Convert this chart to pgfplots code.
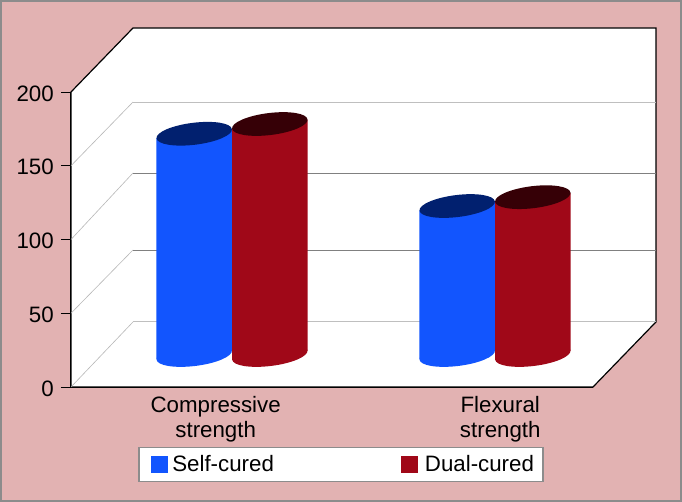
\documentclass[border=0pt]{standalone}
\usepackage{fontspec}
\setmainfont{Liberation Sans}
\usepackage{pgfplots}
\pgfplotsset{compat=1.18}
\definecolor{pinkbg}{HTML}{E2B2B2}
\definecolor{frame}{HTML}{8C8C8C}
\definecolor{cblue}{HTML}{1255FE}
\definecolor{cbluetop}{HTML}{01206F}
\definecolor{cred}{HTML}{A00818}
\definecolor{credtop}{HTML}{360006}
\pgfdeclareplotmark{cyl}{%
  \pgfpathellipse{\pgfpointorigin}{\pgfqpoint{37.7bp}{4.63bp}}{\pgfqpoint{-1.34bp}{10.92bp}}%
  \pgfusepathqfill}
\begin{document}
\begin{tikzpicture}
\path[use as bounding box] (0,0) rectangle (682bp,502bp);
\fill[pinkbg] (0,0) rectangle (682bp,502bp);
\draw[frame,line width=1.6bp] (0.8bp,0.8bp) rectangle (681.2bp,501.2bp);
\begin{axis}[
    at={(71bp,115bp)}, anchor=south west,
    scale only axis,
    width=522bp, height=295bp,
    xmin=-0.6122, xmax=1.3726,
    ymin=0, ymax=200,
    clip=false,
    axis x line*=bottom,
    axis y line*=left,
    axis line style={line width=1.2bp,black},
    ytick={0,50,100,150,200},
    tick align=outside,
    major tick length=10bp,
    ytick style={line width=0.9bp,black},
    xtick={-0.062,1.02},
    xticklabels={{Compressive\\strength},{Flexural\\strength}},
    xtick style={draw=none},
    /pgf/number format/assume math mode=true,
    tick label style={font=\fontsize{22.3bp}{25bp}\selectfont},
    xticklabel style={align=center,inner sep=0pt,yshift=1bp},
    yticklabel style={inner sep=0pt,xshift=-7bp,yshift=-1.5bp},
    legend style={at={(axis cs:0.4144,-52.5)},anchor=center,draw=frame,line width=1.3bp,
      fill=white,font=\fontsize{22.3bp}{25bp}\selectfont,
      inner xsep=7bp,inner ysep=6bp,
      /tikz/column 1/.style={column sep=2bp},
      /tikz/column 2/.style={column sep=120bp},
      /tikz/column 3/.style={column sep=4.7bp},
      },
    legend columns=2,
]
% walls
\addplot[fill=white,draw=black,line width=1.2bp,forget plot] coordinates {
    (-0.6122,200) (-0.3764,243.4) (1.612,243.4) (1.612,44.1) (1.3726,0) (-0.6122,0)} --cycle;
% grid, from the front edge to the back wall
\addplot[draw=black!28,line width=0.6bp,forget plot] coordinates {(-0.6122,0) (-0.3764,44.1)};
\addplot[draw=black!28,line width=0.6bp,forget plot] coordinates {(-0.6122,50) (-0.3764,92.9)};
\addplot[draw=black!28,line width=0.6bp,forget plot] coordinates {(-0.6122,100) (-0.3764,145.1)};
\addplot[draw=black!28,line width=0.6bp,forget plot] coordinates {(-0.6122,150) (-0.3764,193.2)};
\addplot[draw=black!25,line width=1bp,forget plot] coordinates {(-0.3764,44.1) (1.612,44.1)};
\addplot[draw=black!50,line width=0.8bp,forget plot] coordinates {(-0.3764,92.9) (1.612,92.9)};
\addplot[draw=black!50,line width=0.8bp,forget plot] coordinates {(-0.3764,145.1) (1.612,145.1)};
\addplot[draw=black!25,line width=1bp,forget plot] coordinates {(-0.3764,193.2) (1.612,193.2)};
% bottom ellipses
\addplot[only marks,mark=cyl,mark options={fill=cblue,draw=none},yshift=32bp,forget plot] coordinates {(-0.1437,0) (0.8563,0)};
\addplot[only marks,mark=cyl,mark options={fill=cred,draw=none},yshift=32bp,forget plot] coordinates {(0.1437,0) (1.1437,0)};
% bodies
\addplot[fill=cblue,draw=none,yshift=32bp,forget plot] coordinates {(-0.2875,-2.9) (-0.2875,147.1) (0,152.9) (0,2.9)} --cycle;
\addplot[fill=cblue,draw=none,yshift=32bp,forget plot] coordinates {(0.7125,-2.9) (0.7125,98.1) (1,103.9) (1,2.9)} --cycle;
\addplot[fill=cred,draw=none,yshift=32bp,forget plot] coordinates {(0,-2.9) (0,153.7) (0.2875,159.5) (0.2875,2.9)} --cycle;
\addplot[fill=cred,draw=none,yshift=32bp,forget plot] coordinates {(1,-2.9) (1,104.1) (1.2875,109.9) (1.2875,2.9)} --cycle;
% tops: self-cured 150, 101; dual-cured 156.6, 107
\addplot[only marks,mark=cyl,mark options={fill=cbluetop,draw=none},yshift=32bp,forget plot] coordinates {(-0.1437,150) (0.8563,101)};
\addplot[only marks,mark=cyl,mark options={fill=credtop,draw=none},yshift=32bp,forget plot] coordinates {(0.1437,156.6) (1.1437,107)};
\addlegendimage{legend image code/.code={\path (0bp,0bp); \fill[cblue] (5bp,-8bp) rectangle (21bp,8bp);}}
\addlegendimage{legend image code/.code={\path (0bp,0bp); \fill[cred] (5bp,-8bp) rectangle (21bp,8bp);}}
\legend{Self-cured,Dual-cured}
\end{axis}
\end{tikzpicture}
\end{document}
